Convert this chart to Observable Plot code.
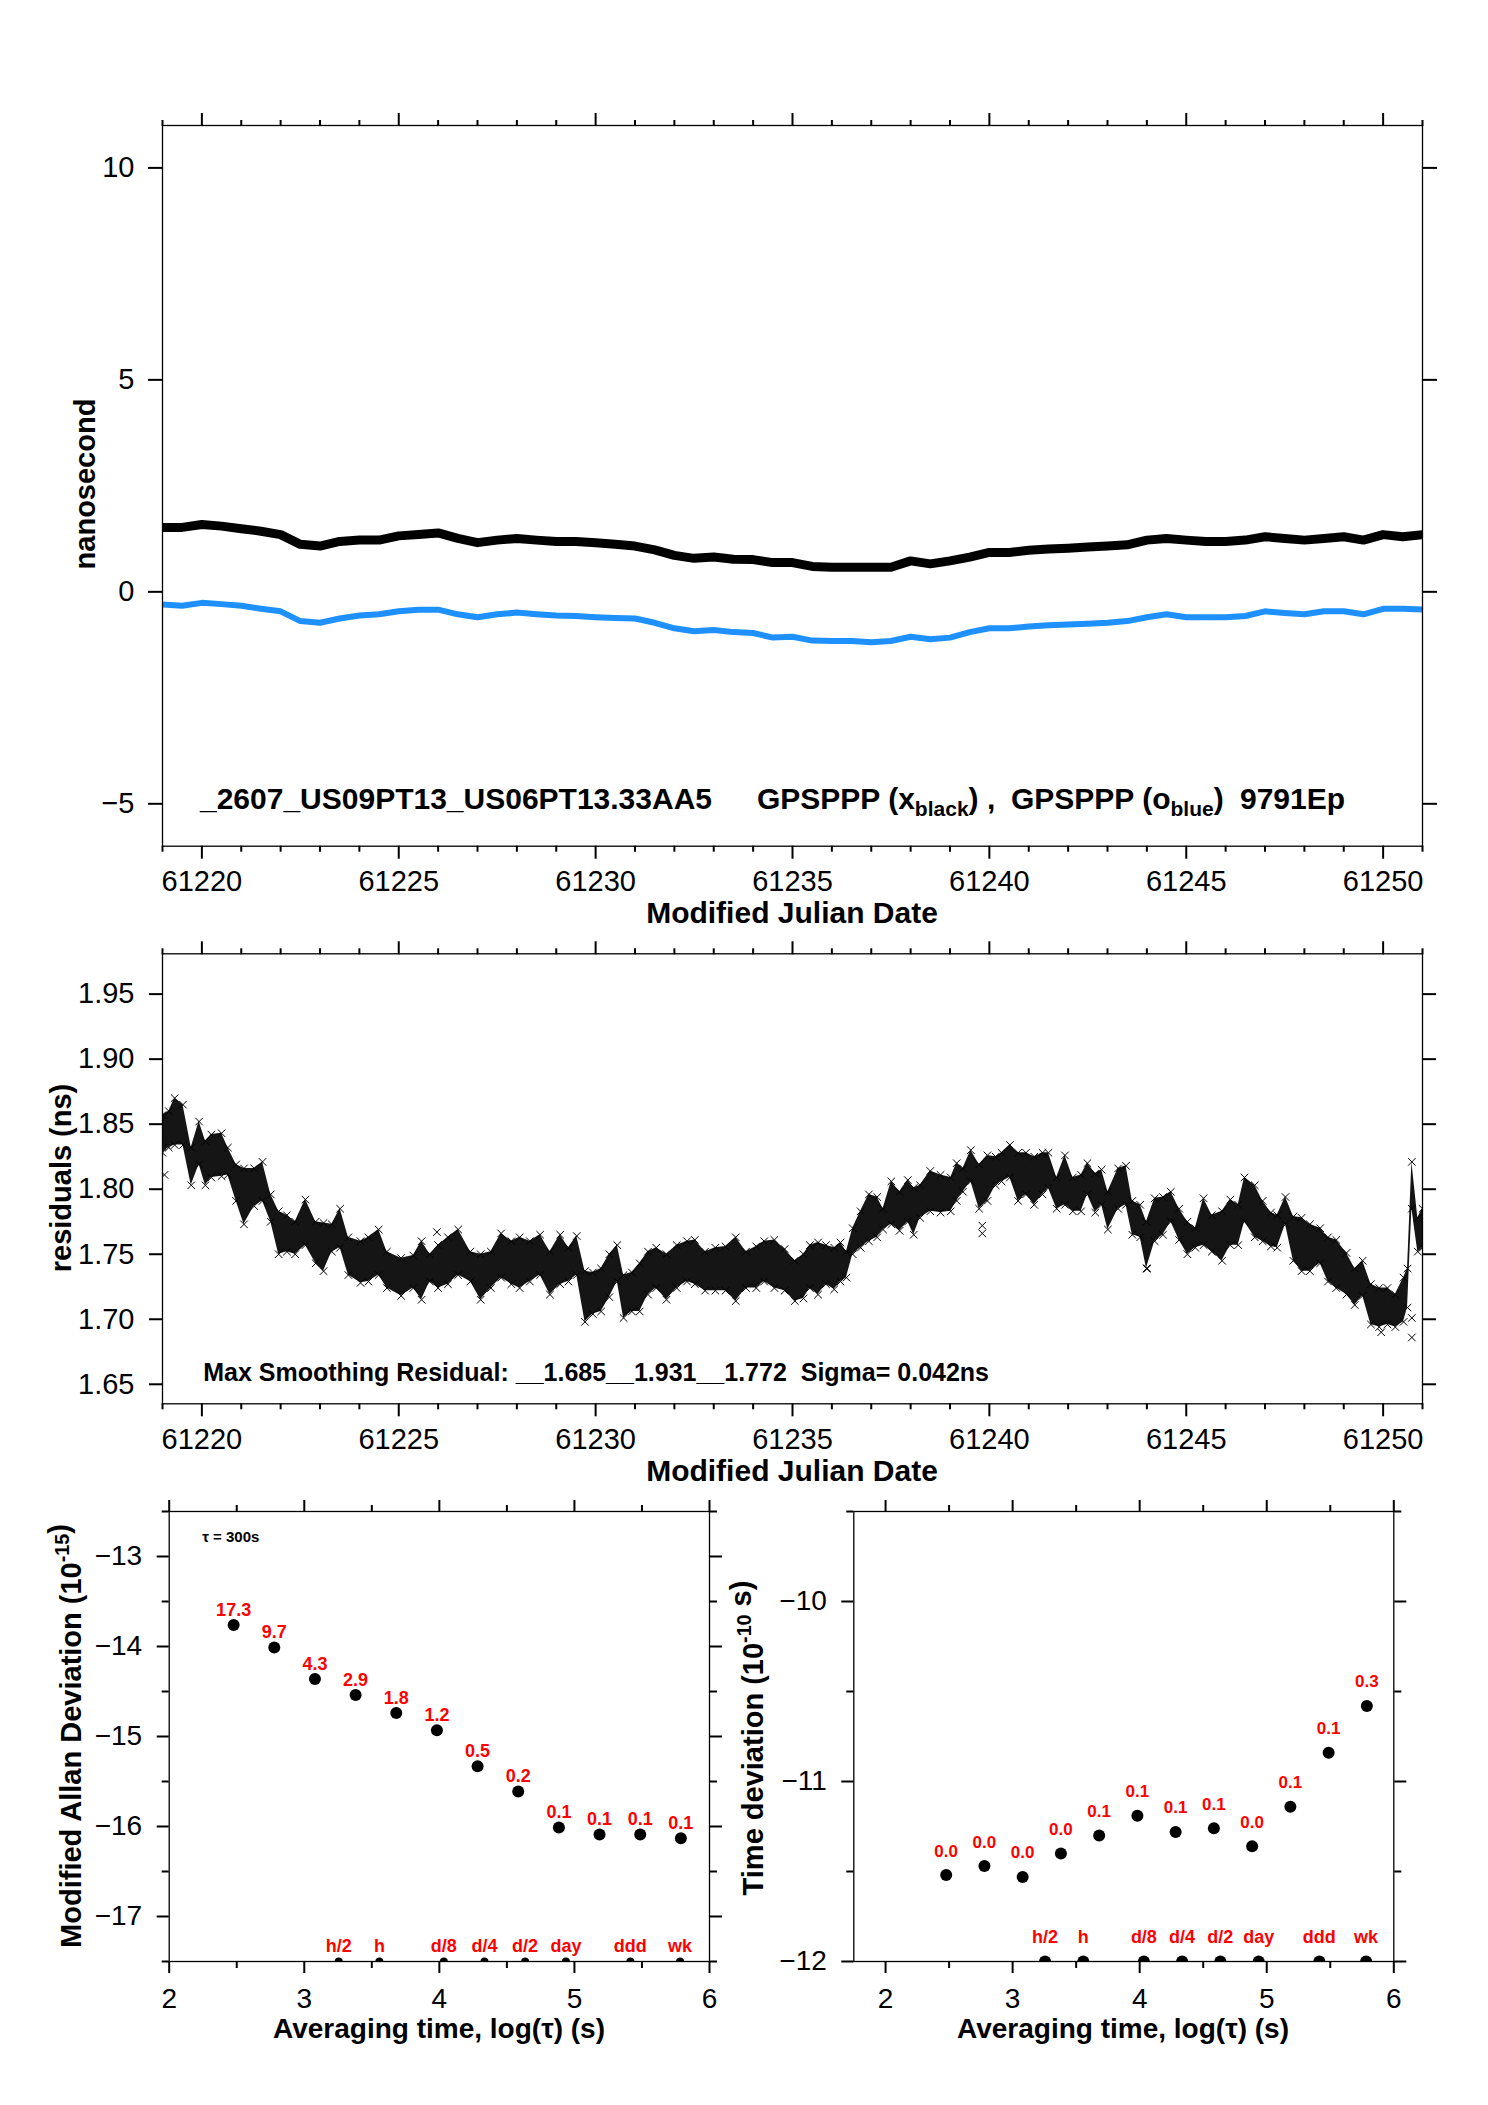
<!DOCTYPE html>
<html><head><meta charset="utf-8">
<script src="https://cdn.jsdelivr.net/npm/d3@7"></script>
<script src="https://cdn.jsdelivr.net/npm/@observablehq/plot@0.6"></script>
<style>
html,body{margin:0;padding:0;background:#fff;}
#page{position:relative;width:1488px;height:2105px;background:#fff;overflow:hidden;font-family:"Liberation Sans",Arial,Helvetica,sans-serif;}
.panel{position:absolute;}
#page svg text{white-space:pre;}
</style></head><body><div id="page"></div>
<script>
// ---------- Panel 1: clock offsets (ns) ----------
const mjdTop = [61219,61219.5,61220,61220.5,61221,61221.5,61222,61222.5,61223,61223.5,
  61224,61224.5,61225,61225.5,61226,61226.5,61227,61227.5,61228,61228.5,
  61229,61229.5,61230,61230.5,61231,61231.5,61232,61232.5,61233,61233.5,
  61234,61234.5,61235,61235.5,61236,61236.5,61237,61237.5,61238,61238.5,
  61239,61239.5,61240,61240.5,61241,61241.5,61242,61242.5,61243,61243.5,
  61244,61244.5,61245,61245.5,61246,61246.5,61247,61247.5,61248,61248.5,
  61249,61249.5,61250,61250.5,61251];
const blackNs = [1.52,1.52,1.59,1.55,1.49,1.43,1.35,1.12,1.08,1.19,
  1.22,1.22,1.32,1.35,1.39,1.26,1.16,1.22,1.26,1.22,
  1.19,1.19,1.16,1.12,1.08,0.99,0.86,0.79,0.82,0.77,
  0.76,0.69,0.69,0.60,0.58,0.58,0.58,0.58,0.73,0.66,
  0.73,0.82,0.93,0.93,0.98,1.01,1.03,1.06,1.08,1.11,
  1.22,1.26,1.22,1.19,1.19,1.22,1.30,1.26,1.22,1.26,
  1.30,1.22,1.35,1.30,1.35];
const blueNs = [-0.30,-0.33,-0.26,-0.29,-0.33,-0.40,-0.46,-0.69,-0.73,-0.63,
  -0.56,-0.53,-0.46,-0.42,-0.42,-0.53,-0.60,-0.53,-0.49,-0.53,
  -0.56,-0.57,-0.60,-0.62,-0.63,-0.73,-0.86,-0.93,-0.90,-0.95,
  -0.97,-1.08,-1.06,-1.15,-1.16,-1.16,-1.19,-1.16,-1.06,-1.12,
  -1.08,-0.95,-0.86,-0.86,-0.82,-0.79,-0.77,-0.75,-0.73,-0.69,
  -0.60,-0.53,-0.60,-0.60,-0.60,-0.57,-0.46,-0.50,-0.53,-0.46,
  -0.46,-0.53,-0.40,-0.40,-0.42];
const topYTicks = [10,5,0,-5];

// ---------- Panel 2: residuals (ns), envelope of the dense x markers ----------
const resDay = [61219.00,61219.16,61219.31,61219.52,61219.73,61219.93,61220.09,61220.24,61220.50,61220.66,
  61220.87,61221.07,61221.33,61221.54,61221.75,61221.95,61222.16,61222.37,61222.63,61222.89,
  61223.09,61223.30,61223.51,61223.72,61224.03,61224.23,61224.49,61224.70,61225.06,61225.37,
  61225.58,61225.79,61226.00,61226.25,61226.51,61226.82,61227.08,61227.34,61227.60,61227.86,
  61228.07,61228.33,61228.59,61228.84,61229.10,61229.31,61229.52,61229.73,61229.93,61230.14,
  61230.35,61230.55,61230.71,61230.92,61231.12,61231.33,61231.54,61231.80,61232.06,61232.32,
  61232.52,61232.78,61233.04,61233.30,61233.56,61233.82,61234.08,61234.28,61234.54,61234.80,
  61235.06,
  61235.28,61235.44,61235.65,61235.85,61236.06,61236.22,61236.37,61236.53,61236.73,61236.94,
  61237.15,61237.30,61237.51,61237.72,61237.93,61238.08,61238.24,61238.50,61238.76,61239.02,
  61239.17,61239.33,61239.53,61239.74,61239.95,61240.16,61240.31,61240.52,61240.73,61240.93,
  61241.14,61241.35,61241.50,61241.71,61241.92,61242.12,61242.33,61242.49,61242.69,61242.85,
  61243.01,61243.27,61243.47,61243.63,61243.83,61243.99,61244.20,61244.41,61244.61,61244.82,
  61245.03,61245.23,61245.44,61245.65,61245.91,61246.12,61246.32,61246.48,61246.74,61246.94,
  61247.15,61247.31,61247.52,61247.72,61247.93,61248.14,61248.40,61248.60,61248.81,61249.07,
  61249.28,61249.48,61249.69,61249.90,61250.11,61250.31,61250.52,61250.62,61250.73,61250.88,
  61251.00];
const resHi = [1.857,1.860,1.870,1.865,1.832,1.852,1.837,1.842,1.843,1.832,
  1.819,1.816,1.816,1.821,1.796,1.783,1.780,1.775,1.792,1.775,
  1.774,1.773,1.785,1.763,1.760,1.763,1.769,1.752,1.747,1.749,
  1.760,1.750,1.757,1.763,1.769,1.752,1.750,1.752,1.766,1.760,
  1.763,1.760,1.765,1.752,1.765,1.755,1.764,1.737,1.736,1.739,
  1.750,1.757,1.734,1.736,1.743,1.752,1.755,1.750,1.757,1.760,
  1.761,1.752,1.755,1.756,1.763,1.752,1.756,1.760,1.761,1.754,
  1.745,
  1.750,1.757,1.759,1.757,1.755,1.759,1.752,1.770,1.783,1.796,
  1.794,1.785,1.806,1.798,1.807,1.801,1.803,1.814,1.811,1.809,
  1.820,1.816,1.830,1.819,1.826,1.825,1.828,1.834,1.828,1.828,
  1.825,1.828,1.828,1.809,1.826,1.809,1.811,1.820,1.812,1.815,
  1.798,1.816,1.818,1.791,1.788,1.775,1.793,1.794,1.798,1.785,
  1.775,1.770,1.793,1.780,1.783,1.792,1.788,1.809,1.803,1.791,
  1.782,1.780,1.794,1.779,1.778,1.773,1.770,1.763,1.761,1.751,
  1.739,1.745,1.727,1.724,1.724,1.719,1.732,1.739,1.821,1.778,
  1.785];
const resLo = [1.828,1.832,1.834,1.834,1.803,1.819,1.803,1.809,1.810,1.811,
  1.791,1.773,1.787,1.791,1.775,1.750,1.752,1.750,1.757,1.743,
  1.737,1.752,1.755,1.734,1.728,1.729,1.734,1.724,1.718,1.724,
  1.715,1.729,1.724,1.727,1.734,1.729,1.715,1.724,1.732,1.727,
  1.724,1.729,1.734,1.719,1.727,1.729,1.734,1.698,1.704,1.706,
  1.717,1.729,1.701,1.706,1.706,1.719,1.724,1.715,1.724,1.729,
  1.727,1.722,1.722,1.722,1.714,1.724,1.724,1.729,1.724,1.722,
  1.714,
  1.716,1.724,1.719,1.727,1.723,1.729,1.732,1.750,1.755,1.760,
  1.763,1.769,1.773,1.768,1.775,1.765,1.778,1.783,1.782,1.783,
  1.791,1.798,1.806,1.785,1.791,1.803,1.806,1.809,1.791,1.796,
  1.788,1.796,1.801,1.785,1.788,1.783,1.783,1.796,1.782,1.788,
  1.769,1.785,1.788,1.765,1.763,1.739,1.760,1.765,1.775,1.761,
  1.750,1.755,1.757,1.752,1.745,1.757,1.757,1.775,1.763,1.760,
  1.756,1.755,1.773,1.745,1.737,1.737,1.743,1.729,1.724,1.719,
  1.711,1.718,1.696,1.694,1.696,1.694,1.698,1.709,1.785,1.752,
  1.755];
const outDay = [61219.05,61225.97,61239.82,61239.82,61244.01,61249.95,61250.73,61250.73];
const outVal = [1.811,1.767,1.766,1.772,1.739,1.690,1.701,1.686];
const resYTicks = [1.65,1.70,1.75,1.80,1.85,1.90,1.95];
const resDomain = [1.635, 1.981];   // min residual - 0.05, max residual + 0.05
const resNote = "Max Smoothing Residual: __1.685__1.931__1.772  Sigma= 0.042ns";

// ---------- Panels 3 & 4: stability ----------
const logTau = [2.477,2.778,3.079,3.380,3.681,3.982,4.283,4.584,4.885,5.186,5.487,5.788];
const modAdev = [-13.76,-14.01,-14.36,-14.54,-14.74,-14.93,-15.33,-15.61,-16.01,-16.09,-16.09,-16.13];
const modAdevLbl = ["17.3","9.7","4.3","2.9","1.8","1.2","0.5","0.2","0.1","0.1","0.1","0.1"];
const tdev = [-11.52,-11.47,-11.53,-11.40,-11.30,-11.19,-11.28,-11.26,-11.36,-11.14,-10.84,-10.58];
const tdevLbl = ["0.0","0.0","0.0","0.0","0.1","0.1","0.1","0.1","0.0","0.1","0.1","0.3"];
const spanLbl = ["h/2","h","d/8","d/4","d/2","day","ddd","wk"];
const spanLog = [3.255,3.556,4.033,4.334,4.635,4.937,5.414,5.782];
const adevDomain = [-17.5,-12.5];
const tdevDomain = [-12,-9.5];

// ---------- helpers ----------
const FONT = '"Liberation Sans", Arial, Helvetica, sans-serif';
const page = document.getElementById("page");
function place(el, left, top) {
  const d = document.createElement("div");
  d.className = "panel"; d.style.left = left + "px"; d.style.top = top + "px";
  d.appendChild(el); page.appendChild(d);
}
function axes(o) {
  const blank = () => "";
  const c = {label: null, strokeWidth: 2, stroke: "black"};
  const m = [];
  if (o.xMin.length) {
    m.push(Plot.axisX({...c, anchor: "bottom", ticks: o.xMin, tickSize: o.xMinLen, tickFormat: blank}));
    m.push(Plot.axisX({...c, anchor: "top", ticks: o.xMin, tickSize: o.xMinLen, tickFormat: blank}));
  }
  m.push(Plot.axisX({...c, anchor: "bottom", ticks: o.xMaj, tickSize: o.xMajLen, tickPadding: o.xPad, tickFormat: o.xFmt}));
  m.push(Plot.axisX({...c, anchor: "top", ticks: o.xMaj, tickSize: o.xMajLen, tickFormat: blank}));
  if (o.yMin.length) {
    m.push(Plot.axisY({...c, anchor: "left", ticks: o.yMin, tickSize: o.yMinLen, tickFormat: blank}));
    m.push(Plot.axisY({...c, anchor: "right", ticks: o.yMin, tickSize: o.yMinLen, tickFormat: blank}));
  }
  m.push(Plot.axisY({...c, anchor: "left", ticks: o.yMaj, tickSize: o.yMajLen, tickPadding: o.yPad, tickFormat: o.yFmt}));
  m.push(Plot.axisY({...c, anchor: "right", ticks: o.yMaj, tickSize: o.yMajLen, tickFormat: blank}));
  m.push(Plot.frame({stroke: "black", strokeWidth: 1.3}));
  return m;
}
const mjdMajor = [61220,61225,61230,61235,61240,61245,61250];
const mjdMinor = d3.range(61219, 61252).filter(d => d % 5 !== 0);
const mjdFmt = d => String(d);

// ---------- Panel 1 ----------
const topRows = mjdTop.map((d, i) => ({mjd: d, black: blackNs[i], blue: blueNs[i]}));
place(Plot.plot({
  width: 1488, height: 930,
  marginLeft: 162, marginRight: 66, marginTop: 125, marginBottom: 84.3,
  x: {domain: [61219, 61251]},
  y: {domain: [-6, 11]},
  style: {fontFamily: FONT, fontSize: "29px", color: "black", background: "white", overflow: "visible"},
  marks: [
    Plot.line(topRows, {x: "mjd", y: "blue", stroke: "#1e90ff", strokeWidth: 6, strokeLinejoin: "round", clip: true}),
    Plot.line(topRows, {x: "mjd", y: "black", stroke: "black", strokeWidth: 9, strokeLinejoin: "round", clip: true}),
    ...axes({xMaj: mjdMajor, xMin: mjdMinor, xMajLen: 13, xMinLen: 6, xPad: 11, xFmt: mjdFmt,
             yMaj: topYTicks, yMin: [], yMajLen: 14, yMinLen: 7, yPad: 14, yFmt: d3.format("d")})
  ]
}), 0, 0);

// ---------- Panel 2 ----------
const resRows = resDay.map((d, i) => ({mjd: d, hi: resHi[i], lo: resLo[i]}));
const outRows = outDay.map((d, i) => ({mjd: d, v: outVal[i]}));
place(Plot.plot({
  width: 1488, height: 560,
  marginLeft: 162, marginRight: 66, marginTop: 23.3, marginBottom: 86.7,
  x: {domain: [61219, 61251]},
  y: {domain: resDomain},
  style: {fontFamily: FONT, fontSize: "29px", color: "black", background: "white", overflow: "visible"},
  marks: [
    Plot.areaY(resRows, {x: "mjd", y1: "lo", y2: "hi", fill: "#151515", clip: true}),
    Plot.dot(resRows, {x: "mjd", y: "hi", symbol: "times", r: 3.5, stroke: "black", strokeWidth: 1, clip: true}),
    Plot.dot(resRows, {x: "mjd", y: "lo", symbol: "times", r: 3.5, stroke: "black", strokeWidth: 1, clip: true}),
    Plot.dot(outRows, {x: "mjd", y: "v", symbol: "times", r: 3.5, stroke: "black", strokeWidth: 1, clip: true}),
    Plot.text([resNote], {text: d => d, frameAnchor: "bottom-left", textAnchor: "start", lineAnchor: "middle",
      dx: 40.7, dy: -31, fontSize: 25, fontWeight: "bold", fill: "black"}),
    ...axes({xMaj: mjdMajor, xMin: mjdMinor, xMajLen: 13, xMinLen: 6, xPad: 12, xFmt: mjdFmt,
             yMaj: resYTicks, yMin: [], yMajLen: 13, yMinLen: 7, yPad: 15, yFmt: d3.format(".2f")})
  ]
}), 0, 930);

// ---------- Panel 3: Modified Allan deviation ----------
const adevRows = logTau.map((d, i) => ({t: d, v: modAdev[i], l: modAdevLbl[i]}));
const spanRowsA = spanLog.map((d, i) => ({t: d, v: adevDomain[0], l: spanLbl[i]}));
place(Plot.plot({
  width: 740, height: 615,
  marginLeft: 168.7, marginRight: 31, marginTop: 21, marginBottom: 144,
  x: {domain: [2, 6]},
  y: {domain: adevDomain},
  style: {fontFamily: FONT, fontSize: "28px", color: "black", background: "white", overflow: "visible"},
  marks: [
    Plot.dot(spanRowsA, {x: "t", y: "v", r: 4, fill: "black", clip: true}),
    Plot.text(spanRowsA, {x: "t", y: "v", text: "l", dy: -15, fill: "red", fontWeight: "bold", fontSize: 18}),
    Plot.dot(adevRows, {x: "t", y: "v", r: 6, fill: "black"}),
    Plot.text(adevRows, {x: "t", y: "v", text: "l", dy: -15, fill: "red", fontWeight: "bold", fontSize: 18}),
    Plot.text(["τ = 300s"], {text: d => d, frameAnchor: "top-left", textAnchor: "start", lineAnchor: "middle",
      dx: 33, dy: 25.7, fontSize: 15, fontWeight: "bold", fill: "black"}),
    ...axes({xMaj: [2,3,4,5,6], xMin: [2.5,3.5,4.5,5.5], xMajLen: 12, xMinLen: 7, xPad: 15, xFmt: d3.format("d"),
             yMaj: [-13,-14,-15,-16,-17], yMin: [-12.5,-13.5,-14.5,-15.5,-16.5,-17.5], yMajLen: 12, yMinLen: 7, yPad: 15, yFmt: d3.format("d")})
  ]
}), 0, 1490);

// ---------- Panel 4: Time deviation ----------
const tdevRows = logTau.map((d, i) => ({t: d, v: tdev[i], l: tdevLbl[i]}));
const spanRowsT = spanLog.map((d, i) => ({t: d, v: tdevDomain[0], l: spanLbl[i]}));
place(Plot.plot({
  width: 748, height: 615,
  marginLeft: 113.3, marginRight: 94.7, marginTop: 21, marginBottom: 144,
  x: {domain: [1.75, 6]},
  y: {domain: tdevDomain},
  style: {fontFamily: FONT, fontSize: "28px", color: "black", background: "white", overflow: "visible"},
  marks: [
    Plot.dot(spanRowsT, {x: "t", y: "v", r: 6, fill: "black", clip: true}),
    Plot.text(spanRowsT, {x: "t", y: "v", text: "l", dy: -24, fill: "red", fontWeight: "bold", fontSize: 18}),
    Plot.dot(tdevRows, {x: "t", y: "v", r: 6, fill: "black"}),
    Plot.text(tdevRows, {x: "t", y: "v", text: "l", dy: -24, fill: "red", fontWeight: "bold", fontSize: 17}),
    ...axes({xMaj: [2,3,4,5,6], xMin: [2.5,3.5,4.5,5.5], xMajLen: 12, xMinLen: 7, xPad: 15, xFmt: d3.format("d"),
             yMaj: [-10,-11,-12], yMin: [-9.5,-10.5,-11.5], yMajLen: 12, yMinLen: 7, yPad: 15, yFmt: d3.format("d")})
  ]
}), 740, 1490);

// ---------- Titles and annotations ----------
const ov = d3.select(page).append("svg")
  .attr("width", 1488).attr("height", 2105)
  .style("position", "absolute").style("left", "0px").style("top", "0px")
  .style("pointer-events", "none")
  .attr("font-family", FONT).attr("font-weight", "bold").attr("fill", "black");

function hLabel(x, y, txt, size) {
  ov.append("text").attr("x", x).attr("y", y).attr("text-anchor", "middle").attr("font-size", size).text(txt);
}
function vLabel(x, y, parts, size) {
  const t = ov.append("text").attr("transform", `translate(${x},${y}) rotate(-90)`)
    .attr("text-anchor", "middle").attr("font-size", size);
  parts.forEach(p => {
    if (p.sup) {
      t.append("tspan").attr("font-size", size * 0.68).attr("dy", -size * 0.42).text(p.sup);
      t.append("tspan").attr("dy", size * 0.42).text("");
    } else {
      t.append("tspan").text(p.t);
    }
  });
}
hLabel(792, 923, "Modified Julian Date", 30);
hLabel(792, 1481, "Modified Julian Date", 30);
hLabel(439, 2038, "Averaging time, log(τ) (s)", 28);
hLabel(1123, 2038, "Averaging time, log(τ) (s)", 28);
vLabel(94.5, 484, [{t: "nanosecond"}], 29);
vLabel(71, 1178, [{t: "residuals (ns)"}], 29);
vLabel(81, 1736, [{t: "Modified Allan Deviation (10"}, {sup: "-15"}, {t: ")"}], 29);
vLabel(763, 1738, [{t: "Time deviation (10"}, {sup: "-10"}, {t: " s)"}], 29);

// top annotation with subscripts
const ann = ov.append("text").attr("x", 200).attr("y", 809).attr("font-size", 30);
ann.append("tspan").text("_2607_US09PT13_US06PT13.33AA5");
ann.append("tspan").attr("x", 757).text("GPSPPP (x");
ann.append("tspan").attr("font-size", 21).attr("dy", 7).text("black");
ann.append("tspan").attr("dy", -7).text(") ,");
ann.append("tspan").attr("x", 1011).text("GPSPPP (o");
ann.append("tspan").attr("font-size", 21).attr("dy", 7).text("blue");
ann.append("tspan").attr("dy", -7).text(")");
ann.append("tspan").attr("x", 1240).text("9791Ep");
</script>
</body></html>
